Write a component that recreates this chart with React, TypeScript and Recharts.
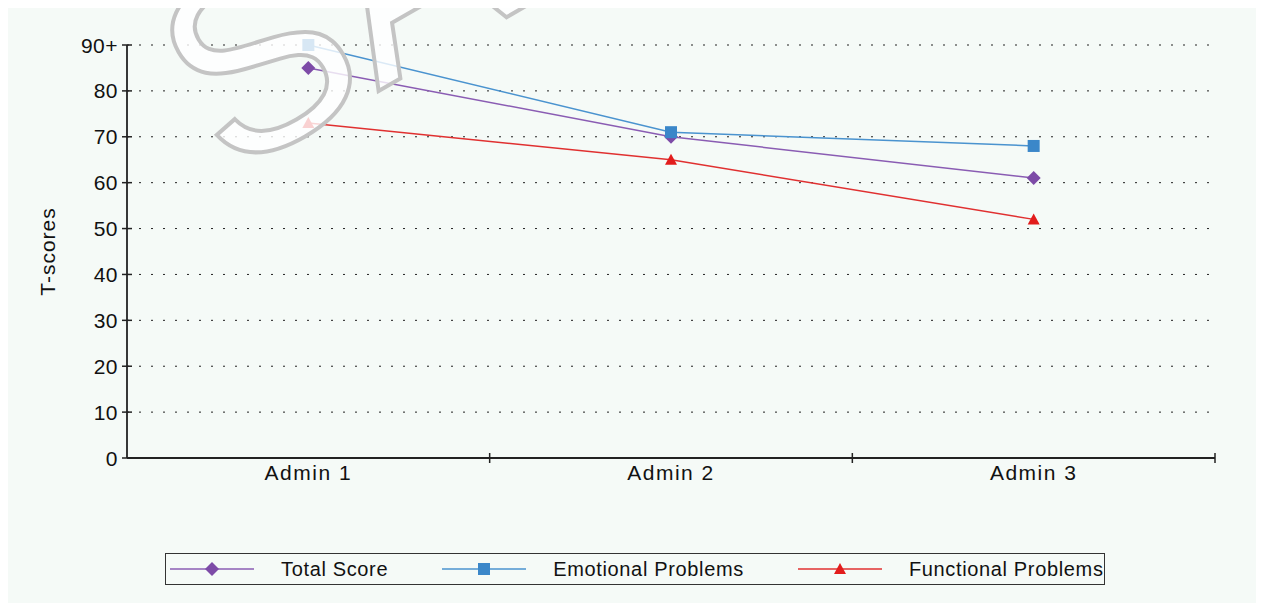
import { ComposedChart, Line, XAxis, YAxis, CartesianGrid, Legend } from 'recharts';

const categories = ['Admin 1', 'Admin 2', 'Admin 3'];
const totalScore = [85, 70, 61];
const emotionalProblems = [90, 71, 68];
const functionalProblems = [73, 65, 52];
const yTicks = [0, 10, 20, 30, 40, 50, 60, 70, 80, 90];
const topTickLabel = '90+';

const series = [
  { key: 'total', label: 'Total Score', color: '#7d4ba7', lineColor: '#8a5cb3', shape: 'diamond' },
  { key: 'emotional', label: 'Emotional Problems', color: '#3b87c9', lineColor: '#4a93cf', shape: 'square' },
  { key: 'functional', label: 'Functional Problems', color: '#e21c1c', lineColor: '#e03030', shape: 'triangle' },
];

const data = categories.map((name, i) => ({
  name,
  total: totalScore[i],
  emotional: emotionalProblems[i],
  functional: functionalProblems[i],
}));

const FONT = '"Liberation Sans", Arial, sans-serif';
const AXIS = '#222';

function Marker({ cx, cy, shape, color }: any) {
  if (cx == null || cy == null) return null;
  if (shape === 'diamond') {
    return <polygon points={`${cx},${cy - 7} ${cx + 7},${cy} ${cx},${cy + 7} ${cx - 7},${cy}`} fill={color} />;
  }
  if (shape === 'square') {
    return <rect x={cx - 6} y={cy - 6} width={12} height={12} fill={color} />;
  }
  return <polygon points={`${cx},${cy - 6} ${cx + 6},${cy + 5} ${cx - 6},${cy + 5}`} fill={color} />;
}

function XTick(props: any) {
  const { x, y, payload, width } = props;
  const half = (Number(width) || 1088) / categories.length / 2;
  return (
    <g>
      <line x1={x + half} x2={x + half} y1={y - 10} y2={y} stroke={AXIS} strokeWidth={1.5} />
      <text x={x} y={y} dy={17} textAnchor="middle" fill="#111" fontSize={21} letterSpacing={1.5} fontFamily={FONT}>
        {payload.value}
      </text>
    </g>
  );
}

function YTick(props: any) {
  const { x, y, payload } = props;
  const axisX = x + 9;
  const label = payload.value === 90 ? topTickLabel : String(payload.value);
  return (
    <g>
      <line x1={axisX - 5} x2={axisX + 5} y1={y} y2={y} stroke={AXIS} strokeWidth={1.5} />
      <text x={x} y={y} dy={7.5} textAnchor="end" fill="#111" fontSize={21} letterSpacing={0.5} fontFamily={FONT}>
        {label}
      </text>
    </g>
  );
}

function YLabel(props: any) {
  const vb = props.viewBox || { x: 0, y: 37, width: 119, height: 413 };
  const cx = vb.x + 47;
  const cy = vb.y + vb.height / 2;
  return (
    <text x={cx} y={cy} transform={`rotate(-90 ${cx} ${cy})`} textAnchor="middle" fill="#111" fontSize={21} letterSpacing={1} fontFamily={FONT}>
      T-scores
    </text>
  );
}

function LegendContent() {
  return (
    <div
      style={{
        boxSizing: 'border-box',
        height: 32,
        border: '1px solid #333',
        display: 'flex',
        alignItems: 'center',
        paddingLeft: 4,
        fontFamily: FONT,
        fontSize: 20,
        letterSpacing: 0.65,
        color: '#111',
        whiteSpace: 'nowrap',
        overflow: 'hidden',
      }}
    >
      {series.map((s) => (
        <div key={s.key} style={{ display: 'flex', alignItems: 'center', marginRight: 54 }}>
          <svg width={84} height={16} style={{ display: 'block' }}>
            <line x1={0} x2={84} y1={8} y2={8} stroke={s.lineColor} strokeWidth={1.5} />
            <Marker cx={42} cy={8} shape={s.shape} color={s.color} />
          </svg>
          <span style={{ marginLeft: 27 }}>{s.label}</span>
        </div>
      ))}
    </div>
  );
}

export default function App() {
  return (
    <div style={{ position: 'relative', width: 1256, height: 595, background: '#f5faf7' }}>
      <ComposedChart width={1256} height={595} data={data} margin={{ top: 37, right: 49, left: 0, bottom: 18 }}>
        <CartesianGrid horizontal vertical={false} stroke="#222" strokeDasharray="2 10" />
        <XAxis
          dataKey="name"
          scale="band"
          height={95}
          tickSize={5}
          tickMargin={0}
          tickLine={false}
          axisLine={{ stroke: AXIS, strokeWidth: 1.8 }}
          tick={<XTick />}
          interval={0}
        />
        <YAxis
          width={119}
          domain={[0, 90]}
          ticks={yTicks}
          interval={0}
          tickSize={5}
          tickMargin={4}
          tickLine={false}
          axisLine={{ stroke: AXIS, strokeWidth: 1.8 }}
          tick={<YTick />}
          label={<YLabel />}
        />
        <Legend
          verticalAlign="bottom"
          content={<LegendContent />}
          wrapperStyle={{ left: 157, bottom: 18, width: 940 }}
        />
        {series.map((s) => (
          <Line
            key={s.key}
            type="linear"
            dataKey={s.key}
            name={s.label}
            stroke={s.lineColor}
            strokeWidth={1.5}
            isAnimationActive={false}
            dot={(p: any) => <Marker key={`${s.key}-${p.index}`} cx={p.cx} cy={p.cy} shape={s.shape} color={s.color} />}
            activeDot={false}
          />
        ))}
      </ComposedChart>
      <svg
        width={1256}
        height={595}
        style={{ position: 'absolute', left: 0, top: 0, overflow: 'visible', pointerEvents: 'none' }}
      >
        <text
          x={0}
          y={0}
          transform="translate(220 170) rotate(-30)"
          fontSize={260}
          fontFamily={FONT}
          fill="#ffffff"
          fillOpacity={0.8}
          stroke="#c4c4c4"
          strokeWidth={4}
        >
          SAMPLE
        </text>
      </svg>
    </div>
  );
}
